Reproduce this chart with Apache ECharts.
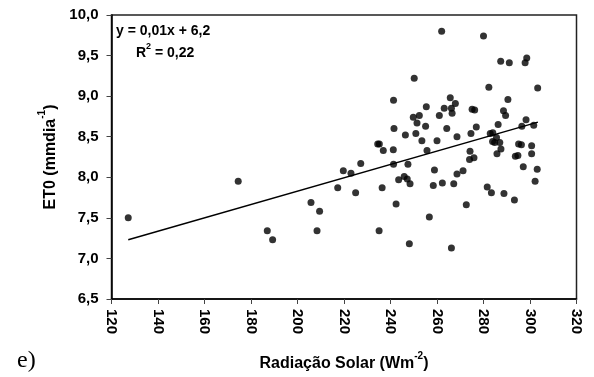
<!DOCTYPE html>
<html>
<head>
<meta charset="utf-8">
<script src="https://cdn.jsdelivr.net/npm/echarts@6/dist/echarts.min.js"></script>
<style>
  html, body { margin: 0; padding: 0; background: #fff; }
  #chart { width: 594px; height: 377px; }
</style>
</head>
<body>
<div id="chart"></div>
<script>
// Radiação solar (W m-2) vs ET0 (mm dia-1)
const radiacao = [
  127.2, 174.5, 187.0, 189.3, 205.8, 209.5, 208.4, 217.3, 219.7, 223.0,
  225.0, 235.1, 236.4, 242.4, 243.5, 245.9, 247.2, 248.4, 248.1, 256.7,
  258.4, 258.9, 262.3, 266.2, 267.2, 268.6, 271.2, 272.6, 281.6, 283.4,
  288.8, 293.3, 297.1, 302.2, 274.2, 274.0, 275.9, 285.8, 287.5, 293.7,
  294.8, 300.7, 303.1, 227.2, 236.9, 241.2, 241.3, 247.5, 255.7, 262.0,
  250.2, 241.3, 255.4, 249.8, 252.4, 251.4, 255.1, 241.5, 246.4, 250.9,
  253.5, 260.0, 234.5, 235.2, 265.7, 263.1, 266.2, 266.5, 261.0, 264.2,
  280.0, 287.4, 291.1, 298.6, 297.9, 282.3, 303.3, 267.9, 290.5, 275.1,
  276.2, 288.6, 289.5, 276.9, 286.3, 296.5, 298.3, 301.6, 268.6, 274.6,
  282.9, 284.0, 285.6, 283.9, 284.8, 287.0, 295.1, 296.3, 300.7
];
const et0 = [
  7.50, 7.95, 7.34, 7.23, 7.69, 7.58, 7.34, 7.87, 8.08, 8.05,
  7.81, 7.34, 7.87, 7.67, 7.97, 8.01, 7.98, 7.92, 7.18, 7.51,
  7.90, 8.09, 7.93, 7.13, 7.92, 8.04, 8.08, 7.66, 7.88, 7.81,
  7.80, 7.72, 8.13, 7.95, 8.32, 8.22, 8.24, 8.29, 8.35, 8.26,
  8.27, 8.29, 8.10, 8.17, 8.33, 8.34, 8.16, 8.16, 8.33, 9.80,
  9.22, 8.95, 8.87, 8.74, 8.76, 8.67, 8.63, 8.60, 8.52, 8.54,
  8.45, 8.45, 8.41, 8.41, 8.98, 8.85, 8.85, 8.79, 8.76, 8.60,
  9.74, 9.43, 9.41, 9.47, 9.41, 9.11, 9.10, 8.91, 8.96, 8.84,
  8.83, 8.82, 8.76, 8.62, 8.65, 8.63, 8.71, 8.64, 8.50, 8.54,
  8.54, 8.55, 8.49, 8.44, 8.43, 8.43, 8.41, 8.40, 8.39
];

// Fitted line y = 0,01x + 6,2 drawn across the data range
const tendenciaX = [127.2, 303.4];
const tendenciaY = [7.23, 8.68];

const xTicks = { min: 120, max: 320, step: 20 };
const yTicks = { min: 6.5, max: 10.0, step: 0.5 };

const FONT = 'Liberation Sans, Arial, sans-serif';

const pontos = radiacao.map((x, i) => [x, et0[i]]);
const linha = tendenciaX.map((x, i) => [x, tendenciaY[i]]);

const supRich = {
  b: { fontFamily: FONT, fontWeight: 'bold', fontSize: 16, color: '#000', lineHeight: 21, verticalAlign: 'bottom' },
  sup: { fontFamily: FONT, fontWeight: 'bold', fontSize: 10, color: '#000', lineHeight: 12, verticalAlign: 'top' }
};

const chart = echarts.init(document.getElementById('chart'), null, { renderer: 'canvas' });
chart.setOption({
  animation: false,
  backgroundColor: '#fff',
  grid: {
    left: 111.5, right: 17.5, top: 15, bottom: 74,
    show: true, borderColor: '#222', borderWidth: 1.5, backgroundColor: 'transparent'
  },
  xAxis: {
    type: 'value',
    min: xTicks.min, max: xTicks.max, interval: xTicks.step,
    splitLine: { show: false },
    axisLine: { show: true, onZero: false, lineStyle: { color: '#000', width: 1.5 } },
    axisTick: { show: true, inside: false, length: 5, lineStyle: { color: '#444', width: 1 } },
    axisLabel: {
      rotate: -90, margin: 10, color: '#000',
      fontFamily: FONT, fontWeight: 'bold', fontSize: 15
    },
    name: '{b|Radiação Solar (Wm}{sup|-2}{b|)}',
    nameLocation: 'middle', nameGap: 52,
    nameTextStyle: { rich: supRich }
  },
  yAxis: {
    type: 'value',
    min: yTicks.min, max: yTicks.max, interval: yTicks.step,
    splitLine: { show: false },
    axisLine: { show: true, onZero: false, lineStyle: { color: '#000', width: 1.5 } },
    axisTick: { show: true, inside: false, length: 5, lineStyle: { color: '#444', width: 1 } },
    axisLabel: {
      margin: 13, color: '#000',
      fontFamily: FONT, fontWeight: 'bold', fontSize: 15,
      formatter: v => v.toFixed(1).replace('.', ',')
    },
    name: '{b|ET0 (mmdia}{sup|-1}{b|)}',
    nameLocation: 'middle', nameGap: 52,
    nameTextStyle: { rich: supRich }
  },
  series: [
    {
      type: 'scatter',
      data: pontos,
      symbol: 'circle',
      symbolSize: 7,
      itemStyle: { color: '#000' },
      z: 3
    },
    {
      type: 'line',
      data: linha,
      showSymbol: false,
      symbol: 'none',
      lineStyle: { color: '#000', width: 1.5 },
      z: 2
    }
  ],
  graphic: [
    {
      type: 'text', left: 116, top: 24,
      style: {
        text: 'y = 0,01x + 6,2',
        font: 'bold 14px ' + FONT, fill: '#000'
      }
    },
    {
      type: 'text', left: 136, top: 42,
      style: {
        text: '{b|R}{sup|2}{b| = 0,22}',
        rich: {
          b: { font: 'bold 14px ' + FONT, fill: '#000', lineHeight: 18, verticalAlign: 'bottom' },
          sup: { font: 'bold 9px ' + FONT, fill: '#000', lineHeight: 11, verticalAlign: 'top' }
        }
      }
    },
    {
      type: 'text', left: 17, top: 349,
      style: { text: 'e)', font: '24px "Liberation Serif", "Times New Roman", serif', fill: '#000' }
    }
  ]
});
</script>
</body>
</html>
